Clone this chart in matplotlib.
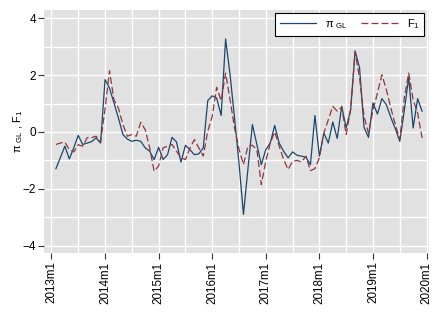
import matplotlib
matplotlib.use('Agg')
import matplotlib.pyplot as plt
import numpy as np

# monthly series, 2013m2 .. 2019m12
START_MONTH = 1  # months after 2013m1

pi_gl = [
    -1.29, -0.90, -0.50, -0.95, -0.56, -0.12, -0.44, -0.39, -0.34, -0.21, -0.39,
    1.84, 1.54, 1.02, 0.49, -0.09, -0.25, -0.33, -0.29, -0.33, -0.56, -0.68, -0.97,
    -0.54, -0.97, -0.80, -0.19, -0.35, -1.06, -0.47, -0.62, -0.80, -0.77, -0.56, 1.10,
    1.27, 1.19, 0.58, 3.27, 2.01, 0.49, -1.10, -2.90, -1.30, 0.26, -0.44, -1.15,
    -0.62, -0.39, 0.23, -0.39, -0.68, -0.91, -0.70, -0.82, -0.85, -0.89, -1.15, 0.58,
    -0.85, -0.04, -0.39, 0.35, -0.23, 0.90, 0.14, 0.78, 2.85, 2.25, 0.16, -0.19,
    1.02, 0.63, 1.17, 0.96, 0.51, 0.12, -0.33, 0.73, 1.92, 0.14, 1.17, 0.73,
]

f1 = [
    -0.44, -0.39, -0.36, -0.62, -0.70, -0.45, -0.50, -0.20, -0.20, -0.15, -0.35,
    0.80, 2.15, 1.13, 0.84, 0.26, -0.15, -0.09, -0.15, 0.34, 0.08, -0.56, -1.38,
    -1.20, -0.56, -0.50, -0.44, -0.68, -0.91, -0.97, -0.58, -0.27, -0.56, -0.85, 0.02,
    0.55, 1.57, 1.10, 2.07, 1.13, 0.14, -0.60, -1.15, -0.50, -0.47, -0.62, -1.85,
    -1.03, -0.39, 0.00, -0.50, -0.97, -1.32, -1.03, -1.00, -1.06, -0.85, -1.36, -1.29,
    -0.91, -0.04, 0.43, 0.90, 0.73, 0.87, -0.09, 0.78, 2.81, 1.89, 0.55, -0.04,
    0.75, 1.37, 2.01, 1.49, 0.84, 0.26, -0.27, 1.19, 2.07, 1.13, 0.67, -0.21,
]

year_labels = ['2013m1', '2014m1', '2015m1', '2016m1', '2017m1', '2018m1', '2019m1', '2020m1']
y_ticks = [-4, -2, 0, 2, 4]

BLUE = '#1a476f'
RED = '#90353b'
PLOT_BG = '#e1e1e1'

plt.rcParams['font.family'] = ['Liberation Sans', 'DejaVu Sans']
plt.rcParams['mathtext.fontset'] = 'custom'
plt.rcParams['mathtext.rm'] = 'Liberation Sans'

fig = plt.figure(figsize=(4.4, 3.2), dpi=100)
ax = fig.add_axes([0.1007, 0.209, 0.8743, 0.76])
ax.set_facecolor(PLOT_BG)

months = np.arange(len(pi_gl)) + START_MONTH
line_pi, = ax.plot(months, pi_gl, color=BLUE, linewidth=0.9)
line_f, = ax.plot(months, f1, color=RED, linewidth=0.9, linestyle=(0, (5.5, 2.5)))

ax.set_xlim(-1.6, 84.55)
ax.set_ylim(-4.26, 4.29)

year_pos = np.arange(len(year_labels)) * 12
ax.set_xticks(year_pos)
ax.set_xticklabels(year_labels, rotation=90, fontsize=8.4)
ax.set_xticks(np.arange(0, 85, 6), minor=True)
ax.set_yticks(y_ticks)
ax.set_yticklabels([str(v).replace('-', '\u2212') for v in y_ticks], fontsize=8.5)
ax.set_yticks(np.arange(-4, 5, 1), minor=True)

ax.grid(True, which='both', color='white', linewidth=1.0)
ax.set_axisbelow(True)
ax.tick_params(axis='both', which='major', length=4, width=0.8, color='#333333', pad=2)
ax.tick_params(axis='both', which='minor', length=0)

for spine in ax.spines.values():
    spine.set_visible(False)

ax.set_ylabel('\u03c0$_{\\mathrm{\\ GL}}$ , F$_1$', fontsize=8, va='center')
ax.yaxis.set_label_coords(-0.068, 0.5)

legend = ax.legend(
    [line_pi, line_f],
    ['\u03c0$_{\\mathrm{\\ GL}}$', 'F$_1$'],
    loc='upper right',
    bbox_to_anchor=(0.987, 0.988),
    borderaxespad=0,
    ncol=2,
    fontsize=8,
    frameon=True,
    fancybox=False,
    handlelength=3.3,
    columnspacing=1.2,
    borderpad=0.4
)
legend.get_frame().set_edgecolor('black')
legend.get_frame().set_linewidth(0.8)
legend.get_frame().set_facecolor('white')
legend.get_frame().set_alpha(1.0)

fig.savefig('out.png', dpi=100)
